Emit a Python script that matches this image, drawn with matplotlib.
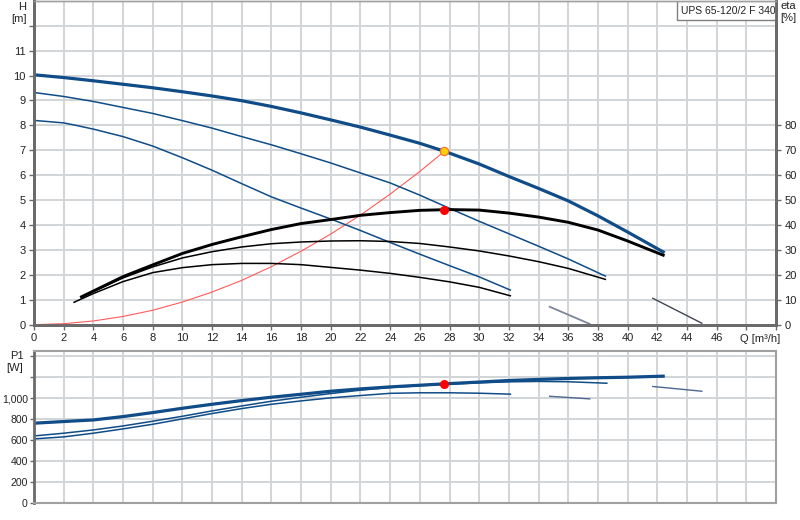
import numpy as np
import matplotlib.pyplot as plt
from matplotlib.patches import Rectangle

plt.rcParams['font.family'] = ['Liberation Sans', 'DejaVu Sans']

# pump curves H [m] vs Q [m3/h] (three speeds)
q_max = [0, 2, 4, 6, 8, 10, 12, 14, 16, 18, 20, 22, 24, 26, 27.66, 30, 32, 34, 36, 38, 40, 42.4]
h_max = [10.03, 9.92, 9.79, 9.65, 9.51, 9.35, 9.18, 8.99, 8.76, 8.50, 8.22, 7.93, 7.61, 7.28, 6.96,
         6.45, 5.95, 5.47, 4.97, 4.37, 3.72, 2.92]
q_mid = [0, 2, 4, 6, 8, 10, 12, 14, 16, 18, 20, 22, 24, 26, 28, 30, 32, 34, 36, 38.5]
h_mid = [9.32, 9.16, 8.96, 8.72, 8.48, 8.19, 7.89, 7.55, 7.22, 6.86, 6.49, 6.09, 5.69, 5.20, 4.67,
         4.15, 3.65, 3.15, 2.64, 1.95]
q_min = [0, 2, 2.6, 4, 6, 8, 10, 12, 14, 16, 18, 20, 22, 24, 26, 28, 30, 32.1]
h_min = [8.2, 8.1, 8.03, 7.85, 7.55, 7.17, 6.70, 6.20, 5.66, 5.13, 4.68, 4.24, 3.78, 3.30, 2.83,
         2.37, 1.92, 1.39]

# efficiency curves eta [%]
q_eta_max = [3.2, 4, 6, 8, 10, 12, 14, 16, 18, 20, 22, 24, 26, 28, 30, 32, 34, 36, 38, 40, 42.4]
eta_max = [11.2, 13.5, 19.3, 24.0, 28.6, 32.2, 35.3, 38.2, 40.6, 42.2, 43.9, 45.0, 45.9, 46.2,
           46.0, 44.8, 43.2, 41.1, 38.0, 33.6, 27.9]
q_eta_mid = [3.2, 4, 6, 8, 10, 12, 14, 16, 18, 20, 22, 24, 26, 28, 30, 32, 34, 36, 38.5]
eta_mid = [11.0, 13.3, 18.8, 23.2, 26.8, 29.3, 31.2, 32.5, 33.2, 33.6, 33.7, 33.4, 32.6, 31.2,
           29.6, 27.6, 25.3, 22.6, 18.2]
q_eta_min = [2.7, 4, 6, 8, 10, 12, 14, 16, 18, 20, 22, 24, 26, 28, 30, 32.1]
eta_min = [9.0, 12.5, 17.3, 20.9, 22.9, 24.1, 24.6, 24.6, 24.1, 23.0, 21.9, 20.6, 19.0, 17.2,
           15.0, 11.6]

# system curve
q_sys = [0, 2, 4, 6, 8, 10, 12, 14, 16, 18, 20, 22, 24, 26, 27.66]
h_sys = [0, 0.04, 0.15, 0.33, 0.58, 0.91, 1.31, 1.78, 2.33, 2.95, 3.64, 4.40, 5.24, 6.15, 6.96]

# short segments bottom right
seg1_q = [34.75, 37.45]
seg1_h = [0.72, 0.03]
seg2_q = [41.7, 45.0]
seg2_h = [1.06, 0.06]

# duty point
q_duty = 27.66
h_duty = 6.96
eta_duty = 46.2
p_duty = 1135

# power P1 [W]
q_p_max = [0, 2, 4, 6, 8, 10, 12, 14, 16, 18, 20, 22, 24, 26, 27.66, 30, 32, 34, 36, 38, 40, 42.4]
p_max = [761, 777, 792, 824, 862, 903, 941, 976, 1008, 1036, 1065, 1087, 1106, 1122, 1135, 1152,
         1167, 1177, 1186, 1193, 1198, 1208]
q_p_mid = [0, 2, 4, 6, 8, 10, 12, 14, 16, 18, 20, 22, 24, 26, 28, 30, 32, 34, 36, 38.6]
p_mid = [640, 666, 697, 735, 780, 827, 878, 925, 970, 1008, 1043, 1075, 1100, 1117, 1132, 1145,
         1154, 1158, 1155, 1141]
q_p_min = [0, 2, 4, 6, 8, 10, 12, 14, 16, 18, 20, 22, 24, 26, 28, 30, 32.1]
p_min = [612, 631, 666, 707, 751, 802, 853, 900, 941, 973, 1002, 1024, 1045, 1050, 1050, 1046, 1037]
pseg1_q = [34.75, 37.45]
pseg1_p = [1017, 992]
pseg2_q = [41.7, 45.0]
pseg2_p = [1110, 1065]

x_ticks = list(range(0, 51, 2))
x_labels = [str(v) for v in range(0, 47, 2)] + ['', '']

blue = '#0f4c88'
grid_c = '#d2d5d8'
spine_c = '#6a6a6a'
fs = 8

fig = plt.figure(figsize=(8, 5.2), dpi=100)

# ---------- top panel ----------
ax = fig.add_axes([34/800, 1-324.7/520, 742/800, 323.9/520])
ax.set_xlim(0, 50)
ax.set_ylim(0, 13)
ax.set_xticks(x_ticks)
ax.set_xticklabels(x_labels)
ax.set_yticks(range(0, 13))
ax.set_yticklabels([str(v) for v in range(0, 12)] + [''])
ax.grid(True, color=grid_c, lw=1.4)
ax.set_axisbelow(True)

ax.plot(q_sys, h_sys, color='#ff5a5a', lw=0.8, zorder=3)
ax.plot(q_min, h_min, color=blue, lw=1.1, zorder=4)
ax.plot(q_mid, h_mid, color=blue, lw=1.1, zorder=4)
ax.plot(q_max, h_max, color=blue, lw=2.3, zorder=4)
ax.plot(seg1_q, seg1_h, color='#7d8597', lw=1.3, zorder=4)
ax.plot(seg2_q, seg2_h, color='#404654', lw=1.0, zorder=4)
ax.plot([q_duty], [h_duty], 'o', ms=6, mfc='#ffd000', mec='#ff6a3a', mew=0.8, zorder=6)

ax2 = ax.twinx()
ax2.set_ylim(0, 130)
ax2.set_yticks(range(0, 81, 10))
ax2.plot(q_eta_min, eta_min, color='black', lw=1.1, zorder=4)
ax2.plot(q_eta_mid, eta_mid, color='black', lw=1.1, zorder=4)
ax2.plot(q_eta_max, eta_max, color='black', lw=2.1, zorder=4)
ax2.plot([q_duty], [eta_duty], 'o', ms=5.5, color='#ff0000', zorder=6)

for a in (ax, ax2):
    for s in a.spines.values():
        s.set_color(spine_c)
    a.spines['top'].set_color('#a0a0a0')
    a.spines['top'].set_linewidth(1.0)
    a.spines['left'].set_linewidth(2)
    a.spines['bottom'].set_linewidth(2)
    a.spines['right'].set_linewidth(2)
    a.tick_params(labelsize=fs, colors='#222222', length=3.5, width=1, pad=2.5)
    a.tick_params(color=spine_c)

ax.annotate('Q [m³/h]', xy=(47.6, 0), xycoords='data', xytext=(0, -6.5),
            textcoords='offset points', ha='left', va='top', fontsize=fs, color='#222222')

ax.add_patch(Rectangle((0.867, 0.94), 0.133, 0.06, transform=ax.transAxes,
                       facecolor='white', edgecolor='#808080', lw=1.0, zorder=10))
ax.text(0.872, 0.969, 'UPS 65-120/2 F 340', transform=ax.transAxes, ha='left', va='center',
        fontsize=7.5, color='#222222', zorder=11)

fig.text(22/800, 1-7/520, 'H', ha='center', va='center', fontsize=fs, color='#222222')
fig.text(19/800, 1-19/520, '[m]', ha='center', va='center', fontsize=fs, color='#222222')
fig.text(788/800, 1-6/520, 'eta', ha='center', va='center', fontsize=fs, color='#222222')
fig.text(788/800, 1-18/520, '[%]', ha='center', va='center', fontsize=fs, color='#222222')

# ---------- bottom panel ----------
bx = fig.add_axes([34/800, 1-503.3/520, 742/800, 152.6/520])
bx.set_xlim(0, 50)
bx.set_ylim(0, 1450)
bx.set_xticks(x_ticks)
bx.set_xticklabels([])
bx.tick_params(axis='x', length=0)
bx.set_yticks(range(0, 1401, 200))
bx.set_yticklabels(['0', '200', '400', '600', '800', '1,000', '', ''])
bx.grid(True, color=grid_c, lw=1.4)
bx.set_axisbelow(True)

bx.plot(q_p_min, p_min, color=blue, lw=1.1)
bx.plot(q_p_mid, p_mid, color=blue, lw=1.1)
bx.plot(q_p_max, p_max, color=blue, lw=2.3)
bx.plot(pseg1_q, pseg1_p, color='#4a6890', lw=1.0)
bx.plot(pseg2_q, pseg2_p, color='#4a6890', lw=1.0)
bx.plot([q_duty], [p_duty], 'o', ms=5.5, color='#ff0000', zorder=6)

for s in bx.spines.values():
    s.set_color('#a0a0a0')
    s.set_linewidth(1.5)
bx.spines['left'].set_color(spine_c)
bx.spines['left'].set_linewidth(2)
bx.tick_params(axis='y', labelsize=7.6, colors='#222222', length=3, width=1, pad=1.5)
bx.tick_params(axis='y', color=spine_c)

fig.text(17/800, 1-356/520, 'P1', ha='center', va='center', fontsize=fs, color='#222222')
fig.text(15/800, 1-368/520, '[W]', ha='center', va='center', fontsize=fs, color='#222222')

fig.savefig('out.png', dpi=100)
